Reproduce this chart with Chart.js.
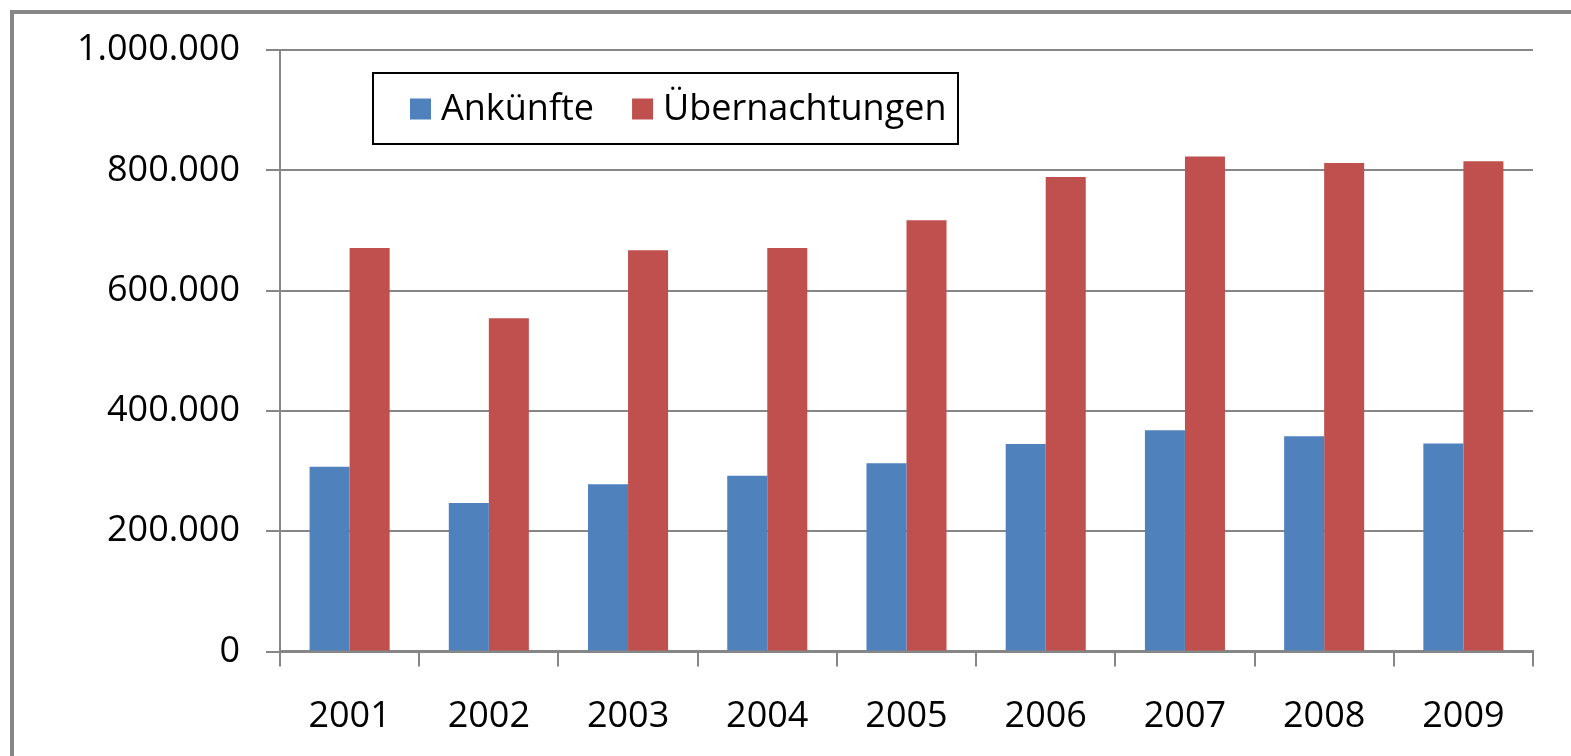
<!DOCTYPE html>
<html>
<head>
<meta charset="utf-8">
<script src="https://cdn.jsdelivr.net/npm/chart.js@4"></script>
<style>
    html, body { margin: 0; padding: 0; background: #fff; }
    #wrap { position: relative; width: 1571px; height: 756px; overflow: hidden; }
    #frame { position: absolute; left: 10px; top: 10px; width: 1700px; height: 900px;
             border-left: 4px solid #878787; border-top: 4px solid #878787; }
</style>
</head>
<body>
<div id="wrap">
    <div id="frame"></div>
    <canvas id="myChart"></canvas>
</div>
<script>
const years = ["2001", "2002", "2003", "2004", "2005", "2006", "2007", "2008", "2009"];
const ankuenfte = [307000, 247000, 278000, 292000, 313000, 345000, 368000, 358000, 346000];
const uebernachtungen = [671000, 554000, 667000, 671000, 717000, 789000, 823000, 812000, 815000];
const yTickLabels = ["0", "200.000", "400.000", "600.000", "800.000", "1.000.000"];

const FONT = "'Open Sans', 'Noto Sans', sans-serif";

// legend box drawn inside the plot, like the original
const boxLegend = {
    id: "boxLegend",
    afterDraw(chart) {
        const ctx = chart.ctx;
        const a = chart.chartArea;
        const x = a.left + 93, y = a.top + 23, w = 585, h = 71;
        ctx.save();
        ctx.fillStyle = "#fff";
        ctx.fillRect(x, y, w, h);
        ctx.strokeStyle = "#000";
        ctx.lineWidth = 2;
        ctx.strokeRect(x, y, w, h);
        ctx.font = "36px " + FONT;
        ctx.textBaseline = "middle";
        let cx = x + 37;
        const cy = y + h / 2;
        chart.data.datasets.forEach(function (ds) {
            ctx.fillStyle = ds.backgroundColor;
            ctx.fillRect(cx, cy - 10, 21, 21);
            ctx.fillStyle = "#000";
            ctx.fillText(ds.label, cx + 31, cy + 1);
            cx += 31 + ctx.measureText(ds.label).width + 38;
        });
        ctx.restore();
    }
};

const ctx = document.getElementById("myChart").getContext("2d");
new Chart(ctx, {
    type: "bar",
    data: {
        labels: years,
        datasets: [
            {
                label: "Ankünfte",
                data: ankuenfte,
                backgroundColor: "#4F81BD",
                barPercentage: 1,
                categoryPercentage: 0.575,
            },
            {
                label: "Übernachtungen",
                data: uebernachtungen,
                backgroundColor: "#C0504D",
                barPercentage: 1,
                categoryPercentage: 0.575,
            },
        ],
    },
    options: {
        responsive: true,
        maintainAspectRatio: false,
        animation: false,
        layout: { padding: { top: 50, right: 38, left: 0, bottom: 0 } },
        plugins: {
            legend: { display: false },
            tooltip: { enabled: false },
        },
        scales: {
            x: {
                offset: true,
                grid: {
                    offset: true,
                    drawOnChartArea: false,
                    drawTicks: true,
                    tickLength: 15,
                    color: "#868686",
                    lineWidth: 2,
                },
                border: { color: "#868686", width: 3 },
                ticks: {
                    color: "#000",
                    font: { family: FONT, size: 36 },
                    padding: 29,
                    maxRotation: 0,
                },
                afterFit(scale) { scale.height = 104.5; },
            },
            y: {
                min: 0,
                max: 1000000,
                grid: {
                    color: "#868686",
                    lineWidth: 2,
                    tickLength: 14,
                },
                border: { color: "#868686", width: 2 },
                ticks: {
                    stepSize: 200000,
                    color: "#000",
                    font: { family: FONT, size: 36 },
                    padding: 26,
                    callback: function (value, index) { return yTickLabels[index]; },
                },
                afterFit(scale) { scale.width = 280; },
            },
        },
    },
    plugins: [boxLegend],
});
</script>
</body>
</html>
